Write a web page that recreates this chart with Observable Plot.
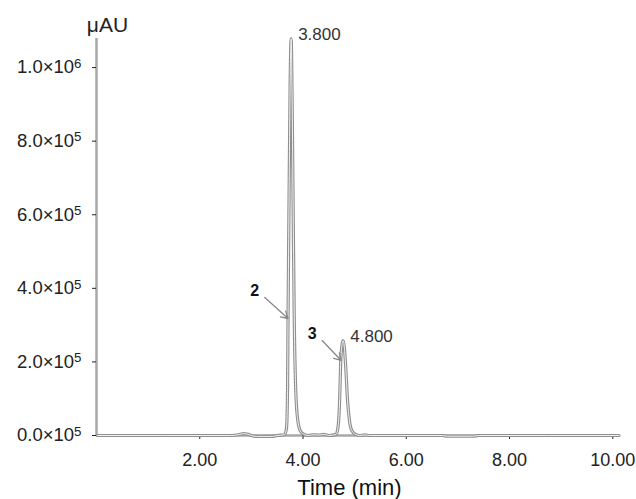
<!DOCTYPE html>
<html>
<head>
<meta charset="utf-8">
<script src="https://cdn.jsdelivr.net/npm/d3@7"></script>
<script src="https://cdn.jsdelivr.net/npm/@observablehq/plot@0.6"></script>
<style>
  html, body { margin: 0; padding: 0; background: #fff; }
  #chart { width: 636px; height: 499px; }
  svg { font-family: "Liberation Sans", Arial, sans-serif; }
</style>
</head>
<body>
<div id="chart"></div>
<script>
// Chromatogram trace (time in min, signal in µAU)
const traceTime = [0.02, 2.6, 2.75, 2.85, 2.92, 3.0, 3.1, 3.4, 3.5,
  3.64, 3.68, 3.70, 3.71, 3.73, 3.75, 3.77, 3.79, 3.81, 3.83, 3.86, 3.90, 3.95, 4.02, 4.10,
  4.2, 4.3, 4.4, 4.5,
  4.64, 4.68, 4.71, 4.73, 4.76, 4.78, 4.80, 4.83, 4.86, 4.90, 4.95, 5.02, 5.10,
  5.2, 5.3, 6.7, 6.8, 7.3, 7.4, 10.12];
const traceSignal = [0, 0, 2000, 5000, 4000, 0, -2500, -2500, 0,
  2000, 20000, 120000, 320000, 650000, 950000, 1078000, 900000, 600000, 320000, 120000, 40000, 12000, 3000, 0,
  2000, 1000, 3000, 0,
  3000, 25000, 100000, 200000, 250000, 258000, 240000, 180000, 100000, 40000, 12000, 3000, 0,
  1500, 0, 0, -2000, -2000, 0, 0];

// Peak retention-time labels
const peakTimes = [3.77, 4.78];
const peakHeights = [1078000, 258000];
const peakLabels = ["3.800", "4.800"];

// Numbered arrows
const arrowNames = ["2", "3"];
const arrowFromX = [3.26, 4.37];
const arrowFromY = [375000, 258000];
const arrowToX = [3.71, 4.74];
const arrowToY = [318000, 204000];

// Axis ticks
const xTicks = [2, 4, 6, 8, 10];
const xTickLabels = ["2.00", "4.00", "6.00", "8.00", "10.00"];
const yTicks = [0, 200000, 400000, 600000, 800000, 1000000];
const yTickLabels = ["0.0×10⁵", "2.0×10⁵", "4.0×10⁵", "6.0×10⁵", "8.0×10⁵", "1.0×10⁶"];
const yUnit = "μAU";
const xTitle = "Time (min)";

const trace = traceTime.map((t, i) => ({t, v: traceSignal[i]}));
const peaks = peakTimes.map((t, i) => ({t, v: peakHeights[i], label: peakLabels[i]}));
const arrows = arrowNames.map((n, i) => ({n, x1: arrowFromX[i], y1: arrowFromY[i], x2: arrowToX[i], y2: arrowToY[i]}));

const chart = Plot.plot({
  width: 636,
  height: 499,
  marginLeft: 96,
  marginRight: 17,
  marginTop: 38,
  marginBottom: 64,
  style: {fontFamily: "'Liberation Sans', Arial, sans-serif", background: "#fff"},
  x: {domain: [0, 10.13]},
  y: {domain: [0, 1079000]},
  marks: [
    Plot.ruleY([0], {stroke: "#a8a8a8", strokeWidth: 2.5}),
    Plot.ruleX([0], {stroke: "#a8a8a8", strokeWidth: 2.5}),
    Plot.axisX(xTicks, {tickSize: 4, tickPadding: 14, stroke: "#222", color: "#222", fontSize: 18,
      tickFormat: (d, i) => xTickLabels[xTicks.indexOf(d)], label: null}),
    Plot.axisY(yTicks, {tickSize: 4, tickPadding: 11, stroke: "#222", color: "#222", fontSize: 18.5,
      tickFormat: (d) => yTickLabels[yTicks.indexOf(d)], label: null}),
    Plot.text([yUnit], {x: 0, y: 1079000, text: d => d, dx: 11, dy: -13, fontSize: 21, fill: "#222", textAnchor: "middle"}),
    Plot.text([xTitle], {x: 4.9, y: 0, text: d => d, dy: 52, fontSize: 22, fill: "#111", textAnchor: "middle"}),
    Plot.line(trace, {x: "t", y: "v", stroke: "#8f8f8f", strokeWidth: 3.2, curve: "monotone-x"}),
    Plot.line(trace, {x: "t", y: "v", stroke: "#f2f2f2", strokeWidth: 1, curve: "monotone-x"}),
    Plot.text(peaks, {x: "t", y: "v", text: "label", dx: 7, dy: -4, textAnchor: "start", fontSize: 17, fill: "#333"}),
    Plot.arrow(arrows, {x1: "x1", y1: "y1", x2: "x2", y2: "y2", stroke: "#888", strokeWidth: 1.3, headLength: 9, inset: 0}),
    Plot.text(arrows, {x: "x1", y: "y1", text: "n", dx: -10, dy: -7, fontSize: 16, fontWeight: "bold", fill: "#111"})
  ]
});

// Render exponent as a raised, smaller tspan (real text kept)
const supMap = {"⁰":"0","¹":"1","²":"2","³":"3","⁴":"4","⁵":"5","⁶":"6","⁷":"7","⁸":"8","⁹":"9"};
chart.querySelectorAll('g[aria-label="y-axis tick label"] text').forEach(el => {
  const s = el.textContent;
  const m = s.match(/^(.*?)([⁰¹²³⁴⁵⁶⁷⁸⁹]+)$/);
  if (!m) return;
  const exp = m[2].split("").map(c => supMap[c]).join("");
  el.textContent = "";
  const base = document.createElementNS("http://www.w3.org/2000/svg", "tspan");
  base.textContent = m[1];
  const sup = document.createElementNS("http://www.w3.org/2000/svg", "tspan");
  sup.textContent = exp;
  sup.setAttribute("dy", "-0.42em");
  sup.setAttribute("font-size", "0.72em");
  el.appendChild(base);
  el.appendChild(sup);
});
document.getElementById("chart").appendChild(chart);
</script>
</body>
</html>
